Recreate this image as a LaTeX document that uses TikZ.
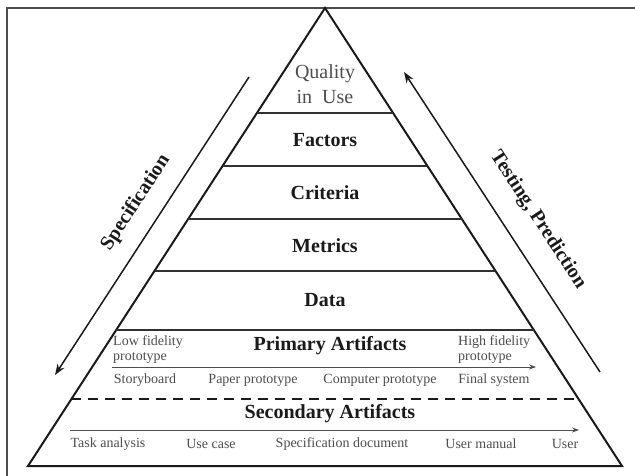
\documentclass[tikz,border=0pt]{standalone}
\usepackage{fontspec}
\setmainfont{Liberation Serif}
\usetikzlibrary{arrows.meta, positioning, calc}
\definecolor{pyrblack}{HTML}{1A1A1A}
\definecolor{pyrgray}{HTML}{4D4D4D}

\begin{document}
\begin{tikzpicture}[x=1pt, y=-1pt,
      edge/.style={line width=2pt, pyrblack, line join=miter},
      sep/.style={line width=1.8pt, pyrblack!90},
      flow/.style={line width=1.5pt, pyrblack, -{Stealth[length=11pt, width=8pt]}},
      axis/.style={line width=0.7pt, pyrgray, -{Stealth[length=7pt, width=5pt]}},
      layer/.style={font=\fontsize{20}{25}\selectfont\bfseries, text=pyrblack},
      small/.style={font=\fontsize{14}{15}\selectfont, text=pyrgray, inner sep=0pt}
    ]
      \useasboundingbox (0,0) rectangle (635,476);
      % frame
      \draw[line width=1.5pt, pyrgray] (7,476) -- (7,8) -- (635,8);

      % pyramid
      \coordinate (apex) at (325,8);
      \coordinate (bl) at (28,466);
      \coordinate (br) at (622,466);
      \draw[edge] (apex) -- (bl) -- (br) -- cycle;

      % layer boundaries
      \foreach \t [count=\i] in {0.229, 0.345, 0.461, 0.574, 0.703} {
        \draw[sep] ($(apex)!\t!(bl)$) -- ($(apex)!\t!(br)$);
      }
      \draw[line width=1.8pt, pyrblack, dash pattern=on 10pt off 7pt]
        ($(apex)!0.854!(bl)$) -- ($(apex)!0.854!(br)$);

      % layers
      \node[layer, font=\fontsize{20}{25}\selectfont, text=pyrgray, align=center] (quality) at (325,84) {Quality\\in~~Use};
      \node[layer] (factors) at (325,140) {Factors};
      \node[layer] (criteria) at (325,193) {Criteria};
      \node[layer] (metrics) at (325,246) {Metrics};
      \node[layer] (data) at (325,300) {Data};

      % primary artifacts
      \node[layer] (primary) at (330,346) {Primary Artifacts};
      \node[small, anchor=west, align=left] (low) at (113,350) {Low fidelity\\prototype};
      \node[small, anchor=west, align=left] (high) at (458,350) {High fidelity\\prototype};
      \coordinate (pstart) at (112,367);
      \coordinate (pend) at (536,367);
      \draw[axis] (pstart) -- (pend);
      \node[small] (story) at (145,380) {Storyboard};
      \node[small] (paper) at (253,380) {Paper prototype};
      \node[small] (computer) at (380,380) {Computer prototype};
      \node[small] (final) at (494,380) {Final system};

      % secondary artifacts
      \node[layer] (secondary) at (330,414) {Secondary Artifacts};
      \coordinate (sstart) at (70,430);
      \coordinate (send) at (579,430);
      \draw[axis] (sstart) -- (send);
      \node[small] (task) at (108,444) {Task analysis};
      \node[small] (usecase) at (211,444) {Use case};
      \node[small] (spec) at (342,444) {Specification document};
      \node[small] (manual) at (481,444) {User manual};
      \node[small] (user) at (565,444) {User};

      % side arrows
      \coordinate (specfrom) at (249,77);
      \coordinate (specto) at (55,375);
      \coordinate (testfrom) at (600,372);
      \coordinate (testto) at (404,72);
      \draw[flow] (specfrom) -- node[layer, pos=0.47, sloped, above=13pt] {Specification} (specto);
      \draw[flow] (testfrom) -- node[layer, pos=0.45, sloped, above=18pt] {Testing, Prediction} (testto);
    \end{tikzpicture}
\end{document}
